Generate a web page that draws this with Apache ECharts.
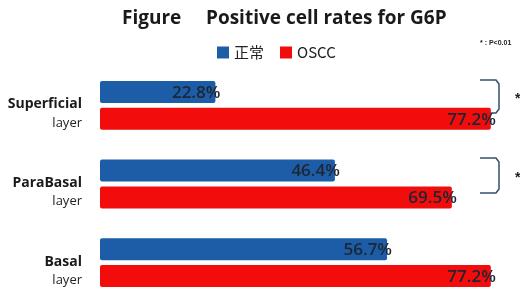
<!DOCTYPE html>
<html>
<head>
<meta charset="utf-8">
<title>G6P</title>
<script src="https://cdn.jsdelivr.net/npm/echarts@6/dist/echarts.min.js"></script>
<style>
  html, body {margin:0; padding:0; background:#fff;}
  #main {width:520px; height:289px;}
</style>
</head>
<body>
<div id="main"></div>
<script>
// data
var layers = ['Superficial', 'ParaBasal', 'Basal'];
var normalRates = [22.8, 46.4, 56.7];
var osccRates = [77.2, 69.5, 77.2];
var seriesNames = ['正常', 'OSCC'];

var chart = echarts.init(document.getElementById('main'));

function bar(name, data, color) {
  return {
    name: name,
    type: 'bar',
    data: data,
    barWidth: 22,
    barGap: '22%',
    itemStyle: {color: color, borderRadius: 2},
    label: {
      show: true,
      position: 'insideRight',
      offset: [10, 1],
      formatter: '{c}%',
      color: '#1c2733',
      fontFamily: 'Open Sans',
      fontSize: 17,
      fontWeight: 600
    }
  };
}

var option = {
  animation: false,
  title: {
    text: 'Figure     Positive cell rates for G6P',
    left: 117, top: 4,
    textStyle: {fontFamily: 'Open Sans', fontSize: 19, fontWeight: 'bold', color: '#1a1a1a'}
  },
  legend: {
    data: seriesNames,
    left: 212, top: 40,
    itemWidth: 12, itemHeight: 12, itemGap: 16,
    icon: 'rect',
    textStyle: {fontSize: 15, color: '#222', fontFamily: 'Noto Sans CJK SC'}
  },
  grid: {left: 100, top: 66, width: 405, height: 236, outerBoundsMode: 'none'},
  xAxis: {
    type: 'value', min: 0, max: 80,
    show: false
  },
  yAxis: {
    type: 'category', data: layers, inverse: true,
    axisLine: {show: false}, axisTick: {show: false},
    axisLabel: {
      margin: 18,
      align: 'right',
      padding: [16, 0, 0, 0],
      formatter: function (v) { return '{b|' + v + '}\n{n|layer}'; },
      rich: {
        b: {fontFamily: 'Open Sans', fontWeight: 'bold', fontSize: 14, color: '#1a1a1a', align: 'right', lineHeight: 19},
        n: {fontFamily: 'Open Sans', fontSize: 13, color: '#222', align: 'right', lineHeight: 18}
      }
    }
  },
  series: [
    bar(seriesNames[0], normalRates, '#1d5ca6'),
    bar(seriesNames[1], osccRates, '#f20c0c')
  ],
  graphic: [
    {type: 'text', left: 480, top: 40, style: {text: '* : P<0.01', font: 'bold 7px sans-serif', fill: '#222'}},
    {type: 'polyline', shape: {points: [[480, 80], [496, 80], [499, 84], [499, 109], [496, 113], [480, 113]]}, style: {stroke: '#34506e', lineWidth: 1.5, fill: null}},
    {type: 'polyline', shape: {points: [[480, 158], [496, 158], [499, 162], [499, 189], [496, 193], [480, 193]]}, style: {stroke: '#34506e', lineWidth: 1.5, fill: null}},
    {type: 'text', left: 515, top: 92, style: {text: '*', font: 'bold 14px sans-serif', fill: '#222'}},
    {type: 'text', left: 515, top: 171, style: {text: '*', font: 'bold 14px sans-serif', fill: '#222'}}
  ]
};
chart.setOption(option);
</script>
</body>
</html>
